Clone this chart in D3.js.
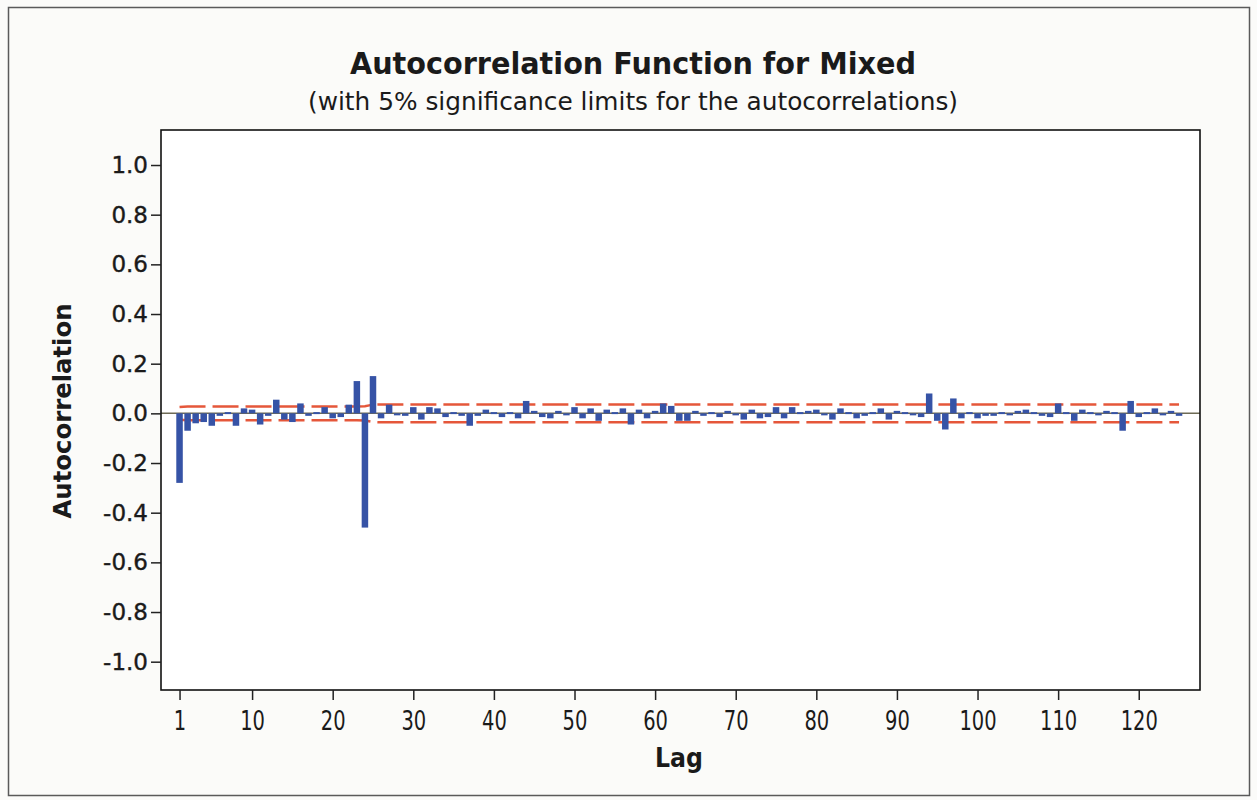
<!DOCTYPE html>
<html>
<head>
<meta charset="utf-8">
<script src="https://cdn.jsdelivr.net/npm/d3@7"></script>
<style>
  html, body { margin: 0; padding: 0; background: #fbfbf9; }
  svg { display: block; }
  text { font-family: "DejaVu Sans", Verdana, sans-serif; fill: #1a1a1a; }
</style>
</head>
<body>
<svg id="chart" width="1257" height="800"></svg>
<script>
// Sample autocorrelations, lags 1..125
const lags = d3.range(1, 126);
const acf = [
  -0.28, -0.07, -0.04, -0.035, -0.05, -0.01, 0.005, -0.05, 0.02, 0.015,
  -0.045, -0.01, 0.055, -0.025, -0.035, 0.04, -0.01, 0.005, 0.025, -0.02,
  -0.015, 0.035, 0.13, -0.46, 0.15, -0.02, 0.035, -0.005, -0.01, 0.025,
  -0.025, 0.025, 0.02, -0.015, 0.005, -0.01, -0.05, -0.01, 0.015, 0.005,
  -0.015, 0.005, -0.02, 0.05, 0.01, -0.015, -0.02, 0.01, -0.005, 0.025,
  -0.02, 0.02, -0.03, 0.015, 0.005, 0.02, -0.045, 0.015, -0.02, 0.01,
  0.04, 0.03, -0.03, -0.03, 0.01, -0.01, 0.005, -0.015, 0.01, -0.005,
  -0.025, 0.015, -0.02, -0.015, 0.025, -0.02, 0.025, 0.005, 0.01, 0.015,
  0.0, -0.025, 0.02, 0.005, -0.02, -0.01, 0.005, 0.02, -0.025, 0.01,
  0.005, -0.005, -0.015, 0.08, -0.03, -0.065, 0.06, -0.02, 0.005, -0.02,
  -0.01, -0.01, 0.005, -0.005, 0.01, 0.015, 0.005, -0.01, -0.015, 0.04,
  0.005, -0.03, 0.015, 0.005, -0.005, 0.01, 0.005, -0.07, 0.05, -0.015,
  0.005, 0.02, -0.005, 0.01, -0.01
];

// 5% significance limits (upper; lower is the negative), at breakpoint lags
const limitLags = [1, 2, 23, 24, 25, 26, 125];
const limitValues = [0.026, 0.028, 0.028, 0.029, 0.035, 0.036, 0.036];

const yTicks = [-1.0, -0.8, -0.6, -0.4, -0.2, 0.0, 0.2, 0.4, 0.6, 0.8, 1.0];
const xTicks = [1, 10, 20, 30, 40, 50, 60, 70, 80, 90, 100, 110, 120];

const titleText = "Autocorrelation Function for Mixed";
const subtitleText = "(with 5% significance limits for the autocorrelations)";
const xLabel = "Lag";
const yLabel = "Autocorrelation";

const svg = d3.select("#chart");
const W = 1257, H = 800;
const plot = { left: 161, top: 130, right: 1200, bottom: 690 };

// page background and outer border
svg.append("rect").attr("x", 0).attr("y", 0).attr("width", W).attr("height", H).attr("fill", "#fbfbf9");
svg.append("rect")
  .attr("x", 8.5).attr("y", 7.5).attr("width", 1241).attr("height", 788)
  .attr("fill", "none").attr("stroke", "#5a5a5a").attr("stroke-width", 1.5);

const x = d3.scaleLinear().domain([-1.3, 127.6]).range([plot.left, plot.right]);
const y = d3.scaleLinear().domain([-1.114, 1.141]).range([plot.bottom, plot.top]);

// plot area
svg.append("rect")
  .attr("x", plot.left).attr("y", plot.top)
  .attr("width", plot.right - plot.left).attr("height", plot.bottom - plot.top)
  .attr("fill", "#ffffff");

// zero reference line
svg.append("line")
  .attr("x1", plot.left).attr("x2", plot.right)
  .attr("y1", y(0)).attr("y2", y(0))
  .attr("stroke", "#6e6b55").attr("stroke-width", 1.5);

// significance limits
const limitPts = limitLags.map((l, i) => ({ lag: l, v: limitValues[i] }));
const limitLine = d3.line().x(d => x(d.lag));
[1, -1].forEach(sign => {
  svg.append("path")
    .datum(limitPts)
    .attr("d", limitLine.y(d => y(sign * d.v)))
    .attr("fill", "none")
    .attr("stroke", "#e5573a")
    .attr("stroke-width", 2.5)
    .attr("stroke-dasharray", "26,7");
});

// autocorrelation bars
const barW = 6.5;
svg.append("g").selectAll("rect")
  .data(lags.map((l, i) => ({ lag: l, v: acf[i] })))
  .join("rect")
  .attr("x", d => x(d.lag) - barW / 2)
  .attr("width", barW)
  .attr("y", d => Math.min(y(d.v), y(0)))
  .attr("height", d => Math.max(2, Math.abs(y(d.v) - y(0))))
  .attr("fill", "#3653a6");

// frame
svg.append("rect")
  .attr("x", plot.left).attr("y", plot.top)
  .attr("width", plot.right - plot.left).attr("height", plot.bottom - plot.top)
  .attr("fill", "none").attr("stroke", "#111").attr("stroke-width", 1.6);

// y axis
const yAxis = svg.append("g")
  .attr("transform", `translate(${plot.left},0)`)
  .call(d3.axisLeft(y).tickValues(yTicks).tickSize(10).tickPadding(3)
    .tickFormat(d => d.toFixed(1)));
yAxis.select(".domain").remove();
yAxis.selectAll(".tick line").attr("stroke", "#222").attr("stroke-width", 1.5);
yAxis.selectAll(".tick text")
  .attr("font-size", 23).attr("font-family", "DejaVu Sans").attr("fill", "#1a1a1a")
  .attr("stroke", "#1a1a1a").attr("stroke-width", 0.4);

// x axis
const xAxis = svg.append("g")
  .attr("transform", `translate(0,${plot.bottom})`)
  .call(d3.axisBottom(x).tickValues(xTicks).tickSize(10).tickPadding(12)
    .tickFormat(d => String(d)));
xAxis.select(".domain").remove();
xAxis.selectAll(".tick line").attr("stroke", "#222").attr("stroke-width", 1.5);
xAxis.selectAll(".tick text")
  .attr("font-size", 26).attr("font-family", "DejaVu Sans").attr("fill", "#1a1a1a")
  .attr("textLength", d => String(d).length * 12.4)
  .attr("lengthAdjust", "spacingAndGlyphs");

// titles
svg.append("text")
  .attr("x", 633).attr("y", 74)
  .attr("text-anchor", "middle")
  .attr("font-size", 31).attr("font-weight", "bold")
  .attr("textLength", 566).attr("lengthAdjust", "spacingAndGlyphs")
  .text(titleText);

svg.append("text")
  .attr("x", 633).attr("y", 110)
  .attr("text-anchor", "middle")
  .attr("font-size", 25)
  .attr("textLength", 650).attr("lengthAdjust", "spacingAndGlyphs")
  .text(subtitleText);

svg.append("text")
  .attr("x", 679).attr("y", 767)
  .attr("text-anchor", "middle")
  .attr("font-size", 27).attr("font-weight", "bold")
  .attr("textLength", 48).attr("lengthAdjust", "spacingAndGlyphs")
  .text(xLabel);

svg.append("text")
  .attr("transform", "translate(71,411) rotate(-90)")
  .attr("text-anchor", "middle")
  .attr("font-size", 25).attr("font-weight", "bold")
  .attr("textLength", 215).attr("lengthAdjust", "spacingAndGlyphs")
  .text(yLabel);
</script>
</body>
</html>
